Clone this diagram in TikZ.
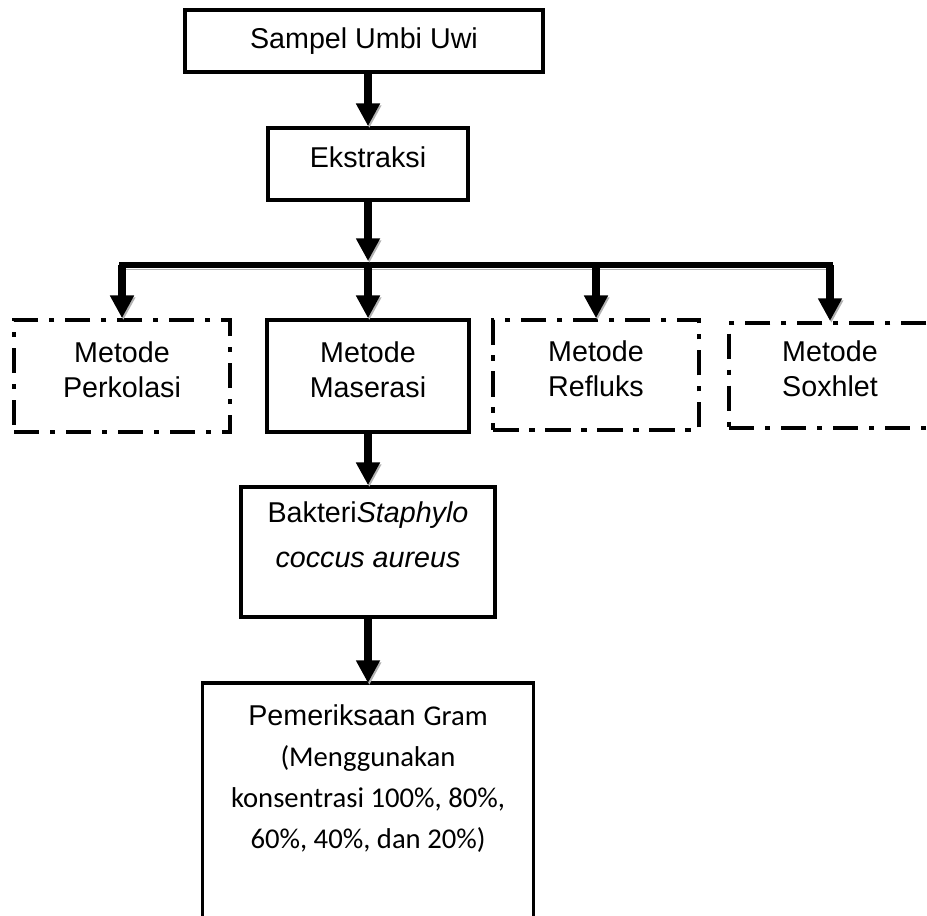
\documentclass[tikz,border=0pt]{standalone}
\usepackage{fontspec}
\setmainfont{Liberation Sans}
\newfontfamily\calibri{Carlito}
\usetikzlibrary{arrows.meta,positioning}

\tikzset{
  box/.style={draw, line width=2.8pt, align=center, inner sep=0pt, font=\fontsize{21.5}{26}\selectfont},
  dashbox/.style={box, dash pattern=on 19pt off 8pt on 4pt off 8pt},
  flow/.style={line width=6pt, -{Triangle[width=17pt,length=17pt]},
    preaction={draw=gray!60, transform canvas={shift={(1pt,-1.5pt)}}}},
  barline/.style={line width=5pt, line cap=rect,
    preaction={draw=gray!60, transform canvas={shift={(0pt,-3pt)}}}},
  pembox/.style={align=center, minimum width=248pt, inner xsep=0pt, inner ysep=15.8pt,
    font=\fontsize{21.5}{27.75}\selectfont}
}

\begin{document}
\begin{tikzpicture}[x=0.75pt, y=-0.75pt]
\useasboundingbox (0,0) rectangle (927,916);
\clip (0,0) rectangle (927,916);
% main column
\node[box, minimum width=268.5pt, minimum height=46.5pt] (sampel) at (364,41) {Sampel Umbi Uwi};
\node[box, text depth=10pt, minimum width=150pt, minimum height=54pt] (ekstraksi) at (368,164) {Ekstraksi};
% methods
\node[dashbox, text depth=10pt, minimum width=162pt, minimum height=84pt] (perkolasi) at (122,376) {Metode\\Perkolasi};
\node[box, text depth=10pt, minimum width=152pt, minimum height=84pt] (maserasi) at (368,376) {Metode\\Maserasi};
\node[dashbox, text depth=10pt, minimum width=154pt, minimum height=82.5pt] (refluks) at (596,375) {Metode\\Refluks};
\node[dashbox, text depth=10pt, minimum width=151.5pt, minimum height=79pt] (soxhlet) at (830,375.5) {Metode\\Soxhlet};
% test steps
\node[box, minimum width=190pt, minimum height=97.5pt] (bakteri) at (368,552) {Bakteri\textit{Staphylo}\\[7.5pt]\textit{coccus aureus}\\\mbox{}};
\node[pembox, anchor=north] (pem) at (368,683) {Pemeriksaan {\calibri Gram}\\[3pt]{\calibri (Menggunakan}\\[3pt]{\calibri konsentrasi 100\%, 80\%,}\\[3pt]{\calibri 60\%, 40\%, dan 20\%)}};
\draw[line width=2.8pt] ([yshift=-400pt]pem.north west) -- (pem.north west) -- (pem.north east) -- ([yshift=-400pt]pem.north east);

% branching bar
\coordinate (barL) at (122,265);
\coordinate (barR) at (830,265);
\draw[barline] (barL) -- (barR);

\draw[flow] (ekstraksi.north |- sampel.south) -- (ekstraksi.north);
\draw[flow] (ekstraksi.south) -- ([yshift=3pt]ekstraksi.south |- barL);
\draw[flow] (barL) -- (perkolasi.north);
\draw[flow] (maserasi.north |- barL) -- (maserasi.north);
\draw[flow] (refluks.north |- barL) -- (refluks.north);
\draw[flow] (barR) -- (soxhlet.north);
\draw[flow] (maserasi.south) -- (bakteri.north);
\draw[flow] (bakteri.south) -- (pem.north);
\end{tikzpicture}
\end{document}
